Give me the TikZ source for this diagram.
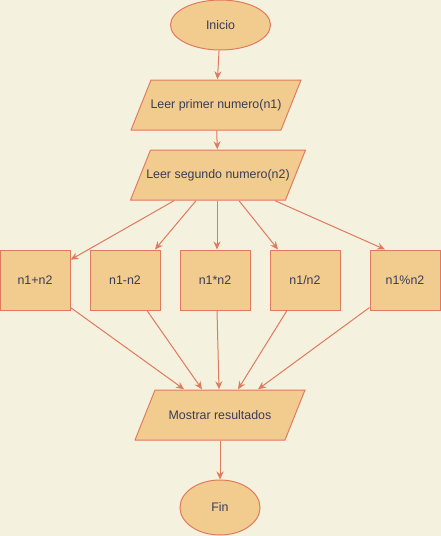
\documentclass[tikz,border=0pt]{standalone}
\usepackage{fontspec}
\setmainfont{Liberation Sans}
\usetikzlibrary{positioning,shapes.geometric,arrows.meta}
\definecolor{bgcol}{HTML}{F4F1DE}
\definecolor{fillcol}{HTML}{F2CC8F}
\definecolor{linecol}{HTML}{E07A5F}
\definecolor{textcol}{HTML}{393C56}

\begin{document}
\begin{tikzpicture}[x=1pt, y=-1pt,
	every node/.style={font=\fontsize{12.4}{14}\selectfont, text=textcol},
	terminal/.style={draw=linecol, fill=fillcol, line width=1pt, ellipse, inner sep=0pt},
	io/.style={rectangle, fill=bgcol, minimum height=51pt, inner sep=0pt,
		path picture={\draw[draw=linecol, fill=fillcol, line width=1pt]
			([xshift=20.5pt,yshift=-0.5pt]path picture bounding box.north west) --
			([xshift=-0.5pt,yshift=-0.5pt]path picture bounding box.north east) --
			([xshift=-20.5pt,yshift=0.5pt]path picture bounding box.south east) --
			([xshift=0.5pt,yshift=0.5pt]path picture bounding box.south west) -- cycle;}},
	op/.style={draw=linecol, fill=fillcol, line width=1pt, rectangle, minimum width=70pt, minimum height=60pt, inner sep=0pt},
	flow/.style={draw=linecol, line width=1pt, -{Stealth[length=8pt,width=7pt]}}
]
					\useasboundingbox (0,0) rectangle (441,536);
					\fill[bgcol] (0,0) rectangle (441,536);

					\node[terminal, minimum width=100pt, minimum height=50pt] (inicio) at (220.5,25) {Inicio};
					\node[io, minimum width=171pt] (leer1) at (216,105) {Leer primer numero(n1)};
					\node[io, minimum width=176pt] (leer2) at (218,175) {Leer segundo numero(n2)};
					\node[op] (suma) at (35,280) {n1+n2};
					\node[op] (resta) at (125,280) {n1-n2};
					\node[op] (mult) at (215,280) {n1*n2};
					\node[op] (divi) at (305,280) {n1/n2};
					\node[op] (modu) at (405,280) {n1\%n2};
					\node[io, minimum width=171pt] (mostrar) at (220,415) {Mostrar resultados};
					\node[terminal, minimum width=80pt, minimum height=55pt] (fin) at (220,507.5) {Fin};

					\draw[flow] (inicio) -- (leer1);
					\draw[flow] (leer1) -- (leer2);
					\draw[flow] ([xshift=-44pt]leer2.south) -- (suma);
					\draw[flow] ([xshift=-22pt]leer2.south) -- ([xshift=30pt]resta.north);
					\draw[flow] ([xshift=-1pt]leer2.south) -- ([xshift=2pt]mult.north);
					\draw[flow] ([xshift=21pt]leer2.south) -- ([xshift=-27pt]divi.north);
					\draw[flow] ([xshift=57pt]leer2.south) -- ([xshift=-20pt]modu.north);
					\draw[flow] ([yshift=3pt]suma.south east) -- ([xshift=-36pt]mostrar.north);
					\draw[flow] ([xshift=22pt]resta.south) -- ([xshift=-18pt]mostrar.north);
					\draw[flow] ([xshift=2pt]mult.south) -- ([xshift=-1pt]mostrar.north);
					\draw[flow] ([xshift=-18pt]divi.south) -- ([xshift=18pt]mostrar.north);
					\draw[flow] ([yshift=3pt]modu.south west) -- ([xshift=38pt]mostrar.north);
					\draw[flow] (mostrar) -- (fin);

\end{tikzpicture}
\end{document}
